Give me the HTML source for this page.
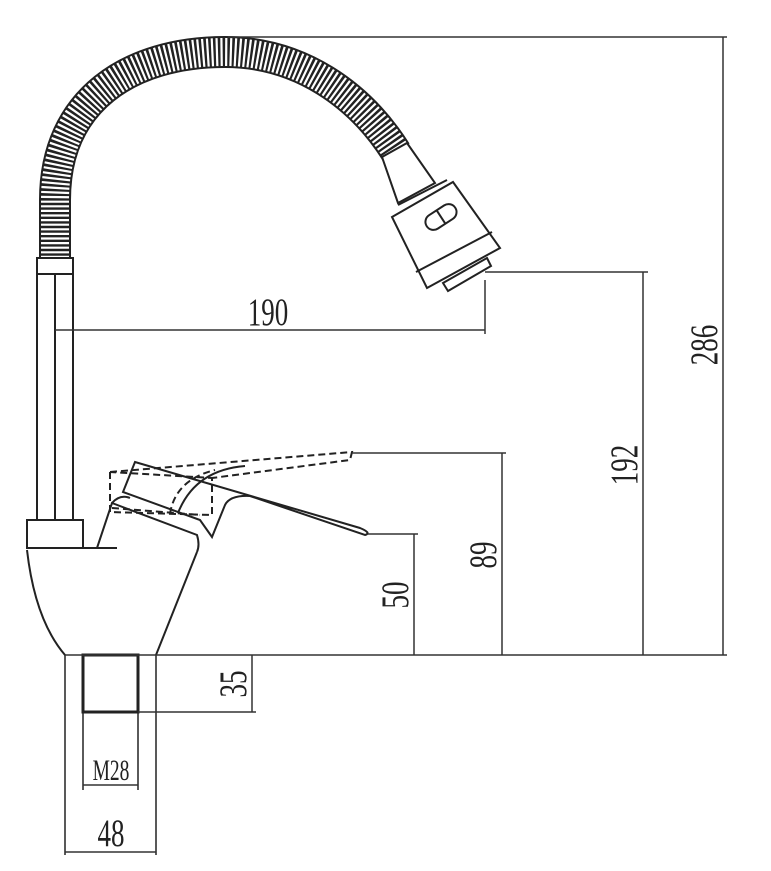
<!DOCTYPE html>
<html><head><meta charset="utf-8"><style>
html,body{margin:0;padding:0;background:#fff;width:771px;height:871px;overflow:hidden}
svg{display:block}
text{font-family:"Liberation Serif",serif;font-size:36px;fill:#222}
</style></head><body>
<svg width="771" height="871" viewBox="0 0 771 871" xmlns="http://www.w3.org/2000/svg">
<g fill="none" stroke="#222" stroke-width="2">
<!-- hose -->
<path d="M55,258 L55,200 C55,100 130,52 225,52 C300,52 360,95 396,152" stroke="#222" stroke-width="32"/>
<path d="M55,258 L55,200 C55,100 130,52 225,52 C300,52 360,95 396,152" stroke="#fff" stroke-width="28" stroke-dasharray="2.2 2.4"/>
<!-- collar & pipe -->
<rect x="37" y="258" width="36" height="16" fill="#fff"/>
<line x1="37" y1="274" x2="37" y2="520"/>
<line x1="73" y1="274" x2="73" y2="520"/>
<line x1="55" y1="274" x2="55" y2="520"/>
<!-- nozzle -->
<polygon points="382,157 407,143 435,183 398,203" fill="#fff"/>
<polygon points="392,217 453,182 500,248 427,288" fill="#fff"/>
<line x1="398" y1="205" x2="447" y2="180"/>
<line x1="416" y1="272" x2="492" y2="232"/>
<g transform="rotate(-33 441 217)">
<rect x="424" y="209" width="34" height="16" rx="8"/>
<line x1="441" y1="209" x2="441" y2="225"/>
</g>
<polygon points="443,283 487,258 491,266 448,291" fill="#fff"/>
<!-- base -->
<rect x="27" y="520" width="56" height="28"/>
<line x1="27" y1="548" x2="117" y2="548"/>
<path d="M27,550 Q35,620 65,655"/>
<path d="M197,552 L156,655"/>
<path d="M97,548 L112,503 L197,535 Q200,545 197,552"/>
<path d="M112,503 Q120,494 130,498"/>
<!-- lever -->
<path d="M135,462 L123,492 L200,520 L212,537 L225,505 Q230,495 250,496 L365,535 Q372,533 360,528 L135,462 Z" fill="#fff"/>
<path d="M178,513 Q195,470 245,466" />
<g stroke-dasharray="7 4">
<path d="M110,472 L110,512 L212,515 L212,478 L110,472"/>
<path d="M110,472 L352,452 L350,460 L212,478"/>
<path d="M112,508 L200,515"/>
<path d="M170,514 Q175,480 215,470"/>
</g>
<!-- stem -->
<rect x="83" y="655" width="55" height="57" stroke-width="3"/>
<line x1="65" y1="655" x2="65" y2="855" stroke-width="1.5"/>
<line x1="156" y1="655" x2="156" y2="855" stroke-width="1.5"/>
<line x1="83" y1="712" x2="83" y2="790" stroke-width="1.5"/>
<line x1="138" y1="712" x2="138" y2="790" stroke-width="1.5"/>
</g>
<g stroke="#333" stroke-width="1.5" fill="none">
<line x1="65" y1="655" x2="727" y2="655"/>
<line x1="228" y1="37" x2="727" y2="37"/>
<line x1="723" y1="37" x2="723" y2="655"/>
<line x1="485" y1="272" x2="648" y2="272"/>
<line x1="643" y1="272" x2="643" y2="655"/>
<line x1="352" y1="453" x2="506" y2="453"/>
<line x1="502" y1="453" x2="502" y2="655"/>
<line x1="368" y1="534" x2="418" y2="534"/>
<line x1="414" y1="534" x2="414" y2="655"/>
<line x1="138" y1="712" x2="256" y2="712"/>
<line x1="252" y1="655" x2="252" y2="712"/>
<line x1="485" y1="280" x2="485" y2="334"/>
<line x1="55" y1="330" x2="485" y2="330"/>
<line x1="83" y1="785" x2="138" y2="785"/>
<line x1="65" y1="852" x2="156" y2="852"/>
</g>
<g>
<text transform="translate(268,325) scale(0.75,1.1)" text-anchor="middle">190</text>
<text transform="translate(717,345) rotate(-90) scale(0.75,1.1)" text-anchor="middle">286</text>
<text transform="translate(637,465) rotate(-90) scale(0.75,1.1)" text-anchor="middle">192</text>
<text transform="translate(496,555) rotate(-90) scale(0.75,1.1)" text-anchor="middle">89</text>
<text transform="translate(408,595) rotate(-90) scale(0.75,1.1)" text-anchor="middle">50</text>
<text transform="translate(246,684) rotate(-90) scale(0.75,1.1)" text-anchor="middle">35</text>
<text transform="translate(111,780) scale(0.65,1)" text-anchor="middle" style="font-size:30px">M28</text>
<text transform="translate(111,846) scale(0.75,1.1)" text-anchor="middle">48</text>
</g>
</svg>
</body></html>
